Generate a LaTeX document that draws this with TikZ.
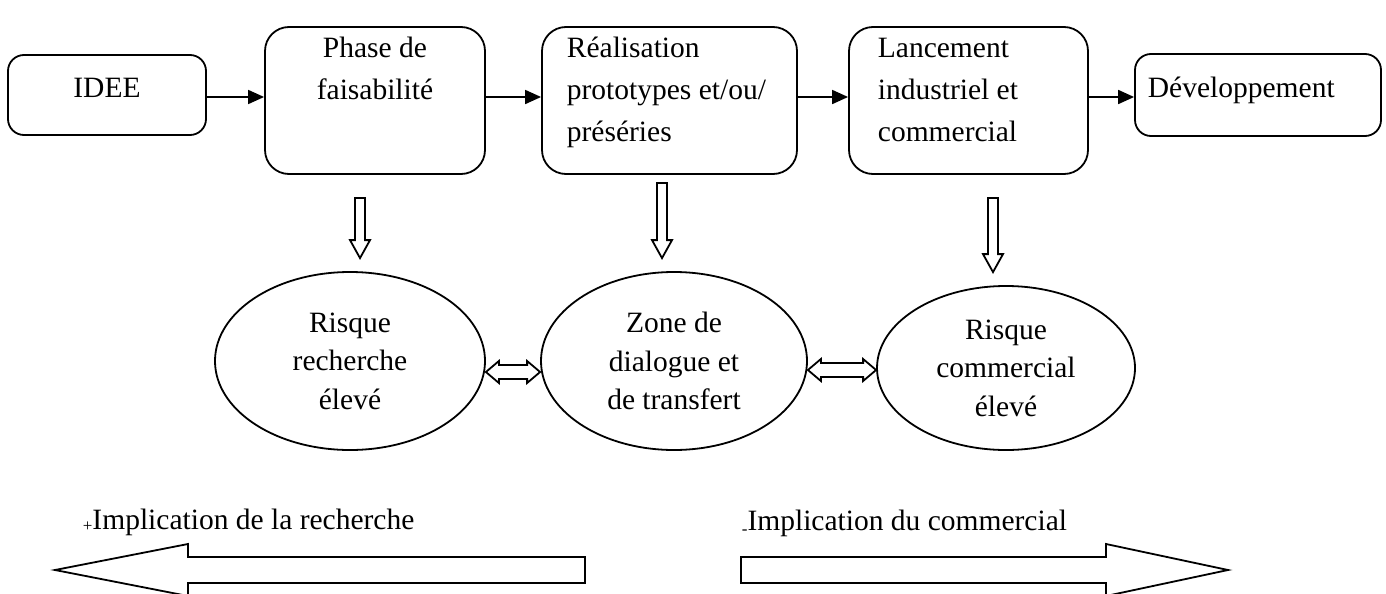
\documentclass[tikz,border=0pt]{standalone}
\usepackage{fontspec}
\setmainfont{Liberation Serif}
\usetikzlibrary{arrows.meta,shapes.geometric,calc}

% vertical block arrow: #1 = top centre of the shaft, #2 = tip
\newcommand\dropblock[2]{%
  \draw[blockarrow] ($(#1)+(-5,0)$) -- ($(#1)+(5,0)$) -- ($(#2)+(5,-18)$)
    -- ($(#2)+(10,-18)$) -- (#2) -- ($(#2)+(-10,-18)$) -- ($(#2)+(-5,-18)$) -- cycle;}
% horizontal two-headed block arrow between #1 (left tip) and #2 (right tip)
\newcommand\twoway[2]{%
  \draw[blockarrow] (#1) -- ($(#1)+(13,-11)$) -- ($(#1)+(13,-7)$) -- ($(#2)+(-13,-7)$)
    -- ($(#2)+(-13,-11)$) -- (#2) -- ($(#2)+(-13,11)$) -- ($(#2)+(-13,7)$)
    -- ($(#1)+(13,7)$) -- ($(#1)+(13,11)$) -- cycle;}

\begin{document}
\begin{tikzpicture}[x=0.5pt,y=-0.5pt,line width=0.9pt,
  txt/.style={font=\fontsize{14.75}{21}\selectfont, inner sep=0pt},
  stagebox/.style={draw, rounded corners=#1, inner sep=0pt},
  stagebox/.default=12pt,
  riskzone/.style={draw, ellipse, align=center, inner sep=0pt,
    font=\fontsize{14.75}{19.25}\selectfont},
  flowline/.style={-{Triangle[length=8pt,width=7pt]}},
  blockarrow/.style={draw, fill=white, line join=miter}]

\useasboundingbox (0,0) rectangle (1386,594);
\clip (0,0) rectangle (1386,594);

% stages of the project
\node[stagebox=8pt, minimum width=99pt,   minimum height=40pt]   (idee)  at (107,95)    {};
\node[stagebox,     minimum width=110pt,  minimum height=73.5pt] (phase) at (375,100.5) {};
\node[stagebox,     minimum width=127.5pt,minimum height=73.5pt] (real)  at (669.5,100.5) {};
\node[stagebox,     minimum width=119.5pt,minimum height=73.5pt] (lanc)  at (968.5,100.5) {};
\node[stagebox=8pt, minimum width=123pt,  minimum height=41pt]   (dev)   at (1258,95)   {};

\node[txt, anchor=base] (idee-t) at (107,97) {IDEE};
\node[txt, anchor=base] (phase-t1) at (375,57) {Phase de};
\node[txt, anchor=base] (phase-t2) at (375,99) {faisabilité};
\node[txt, anchor=base west] (real-t1) at (566,57)  {Réalisation};
\node[txt, anchor=base west] (real-t2) at (566,99)  {prototypes et/ou/};
\node[txt, anchor=base west] (real-t3) at (566,141) {préséries};
\node[txt, anchor=base west] (lanc-t1) at (877,57)  {Lancement};
\node[txt, anchor=base west] (lanc-t2) at (877,99)  {industriel et};
\node[txt, anchor=base west] (lanc-t3) at (877,141) {commercial};
\node[txt, anchor=base west] (dev-t) at (1147,97) {Développement};

\coordinate (row) at (0,97);
\draw[flowline] (idee.east |- row)  -- (phase.west |- row);
\draw[flowline] (phase.east |- row) -- (real.west |- row);
\draw[flowline] (real.east |- row)  -- (lanc.west |- row);
\draw[flowline] (lanc.east |- row)  -- (dev.west |- row);

% risk zones
\node[riskzone, minimum width=135pt, minimum height=89pt] (e1) at (350,361)  {Risque\\recherche\\élevé};
\node[riskzone, minimum width=133pt, minimum height=89pt] (e2) at (674,361)  {Zone de\\dialogue et\\de transfert};
\node[riskzone, minimum width=129pt, minimum height=82pt] (e3) at (1006,368) {Risque\\commercial\\élevé};

% stage -> risk block arrows
\coordinate (a1s) at ($(phase.south)+(-15,23)$);
\coordinate (a1e) at ($(a1s |- e1.north)+(0,-13)$);
\coordinate (a2s) at ($(real.south)+(-7.5,8)$);
\coordinate (a2e) at ($(a2s |- e2.north)+(0,-13)$);
\coordinate (a3s) at ($(lanc.south)+(24.5,23)$);
\coordinate (a3e) at ($(a3s |- e3.north)+(0,-13)$);
\dropblock{a1s}{a1e}
\dropblock{a2s}{a2e}
\dropblock{a3s}{a3e}

% exchanges between zones
\coordinate (d1a) at ($(e1.east)+(0,11)$);
\coordinate (d1b) at (d1a -| e2.west);
\coordinate (d2a) at ($(e2.east)+(0,9)$);
\coordinate (d2b) at (d2a -| e3.west);
\twoway{d1a}{d1b}
\twoway{d2a}{d2b}

% involvement
\node[txt, anchor=base west] (lab-r) at (82,529)
  {\raisebox{-1pt}{\fontsize{8.5}{8.5}\selectfont +}Implication de la recherche};
\node[txt, anchor=base west] (lab-c) at (741,530)
  {\raisebox{-2pt}{\fontsize{8.5}{8.5}\selectfont -}Implication du commercial};

\draw[blockarrow] (55,570) -- (188,544) -- (188,557) -- (585,557) -- (585,583)
  -- (188,583) -- (188,596) -- cycle;
\draw[blockarrow] (1228,570) -- (1106,544) -- (1106,557) -- (741,557) -- (741,583)
  -- (1106,583) -- (1106,596) -- cycle;
\end{tikzpicture}
\end{document}
